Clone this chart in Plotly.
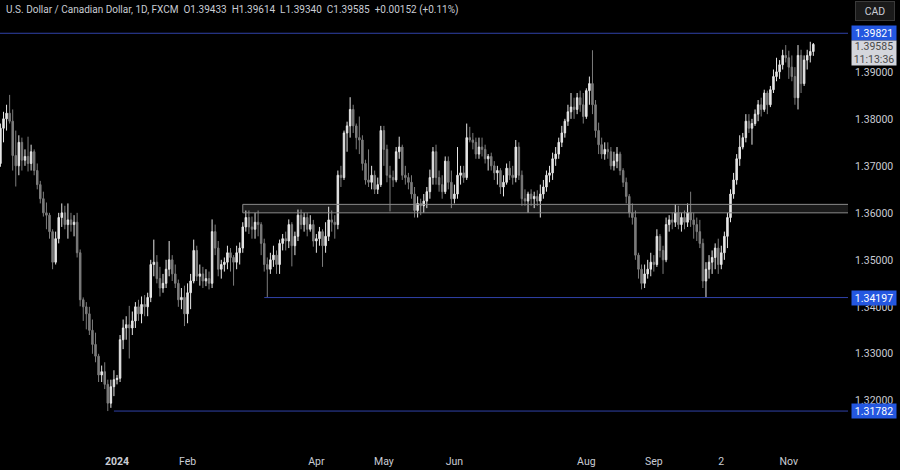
import plotly.graph_objects as go
import pandas as pd

# ---------------- data (USD/CAD daily, FXCM) ----------------
dates = [d.strftime("%Y-%m-%d") for d in pd.bdate_range("2023-11-08", "2024-11-13")]

opens = [
    # Nov 2023
    1.3705, 1.3780, 1.3800, 1.3812, 1.3795, 1.3722, 1.3700, 1.3750, 1.3712, 1.3720, 1.3705, 1.3730, 1.3690, 1.3660, 1.3630, 1.3600, 1.3595,
    # Dec 2023
    1.3560, 1.3495, 1.3545, 1.3590, 1.3600, 1.3575, 1.3585, 1.3575, 1.3580, 1.3515, 1.3415, 1.3400, 1.3385, 1.3350, 1.3320, 1.3295, 1.3255, 1.3262, 1.3235, 1.3195, 1.3230,
    # Jan 2024
    1.3245, 1.3248, 1.3330, 1.3355, 1.3362, 1.3355, 1.3370, 1.3400, 1.3385, 1.3405, 1.3400, 1.3420, 1.3490, 1.3495, 1.3460, 1.3440, 1.3450, 1.3480, 1.3500, 1.3470, 1.3450, 1.3415, 1.3420,
    # Feb
    1.3385, 1.3430, 1.3455, 1.3520, 1.3465, 1.3470, 1.3455, 1.3460, 1.3450, 1.3560, 1.3525, 1.3480, 1.3490, 1.3495, 1.3515, 1.3505, 1.3495, 1.3515, 1.3525, 1.3570, 1.3590,
    # Mar
    1.3570, 1.3565, 1.3580, 1.3575, 1.3535, 1.3490, 1.3480, 1.3500, 1.3510, 1.3490, 1.3535, 1.3545, 1.3540, 1.3575, 1.3530, 1.3550, 1.3595, 1.3575, 1.3590, 1.3565, 1.3575,
    # Apr
    1.3540, 1.3545, 1.3560, 1.3530, 1.3550, 1.3585, 1.3580, 1.3575, 1.3680, 1.3675, 1.3770, 1.3785, 1.3820, 1.3785, 1.3760, 1.3755, 1.3705, 1.3670, 1.3665, 1.3680, 1.3650, 1.3660,
    # May
    1.3775, 1.3735, 1.3680, 1.3675, 1.3670, 1.3730, 1.3740, 1.3680, 1.3675, 1.3665, 1.3640, 1.3605, 1.3620, 1.3615, 1.3625, 1.3645, 1.3675, 1.3730, 1.3675, 1.3660, 1.3645, 1.3710, 1.3665,
    # Jun
    1.3630, 1.3640, 1.3680, 1.3685, 1.3675, 1.3760, 1.3755, 1.3750, 1.3725, 1.3740, 1.3735, 1.3715, 1.3720, 1.3700, 1.3685, 1.3690, 1.3655, 1.3665, 1.3695, 1.3680,
    # Jul
    1.3675, 1.3740, 1.3680, 1.3630, 1.3625, 1.3640, 1.3630, 1.3635, 1.3625, 1.3640, 1.3655, 1.3680, 1.3685, 1.3715, 1.3725, 1.3750, 1.3770, 1.3795, 1.3815, 1.3825, 1.3820, 1.3845, 1.3830,
    # Aug
    1.3805, 1.3860, 1.3875, 1.3830, 1.3775, 1.3745, 1.3725, 1.3735, 1.3730, 1.3700, 1.3710, 1.3725, 1.3690, 1.3665, 1.3635, 1.3600, 1.3590, 1.3510, 1.3480, 1.3450, 1.3470, 1.3480,
    # Sep
    1.3495, 1.3490, 1.3550, 1.3520, 1.3500, 1.3575, 1.3585, 1.3580, 1.3600, 1.3575, 1.3590, 1.3580, 1.3600, 1.3585, 1.3575, 1.3560, 1.3535, 1.3455, 1.3480, 1.3495, 1.3505,
    # Oct
    1.3525, 1.3490, 1.3515, 1.3550, 1.3590, 1.3640, 1.3670, 1.3715, 1.3740, 1.3760, 1.3795, 1.3780, 1.3790, 1.3810, 1.3830, 1.3820, 1.3855, 1.3830, 1.3862, 1.3890, 1.3900, 1.3915, 1.3935,
    # Nov 2024
    1.3930, 1.3910, 1.3890, 1.3845, 1.3935, 1.3875, 1.3925, 1.3935, 1.39433,
]

highs = [
    1.3790, 1.3815, 1.3830, 1.3851, 1.3820, 1.3775, 1.3765, 1.3760, 1.3735, 1.3762, 1.3745, 1.3735, 1.3705, 1.3668, 1.3645, 1.3622, 1.3600,
    1.3565, 1.3560, 1.3600, 1.3620, 1.3615, 1.3620, 1.3600, 1.3595, 1.3600, 1.3522, 1.3420, 1.3410, 1.3400, 1.3373, 1.3345, 1.3300, 1.3275, 1.3282, 1.3245, 1.3245, 1.3265,
    1.3255, 1.3340, 1.3373, 1.3380, 1.3402, 1.3390, 1.3410, 1.3415, 1.3422, 1.3425, 1.3430, 1.3500, 1.3543, 1.3510, 1.3485, 1.3470, 1.3500, 1.3540, 1.3510, 1.3490, 1.3458, 1.3440, 1.3445,
    1.3450, 1.3470, 1.3543, 1.3530, 1.3490, 1.3485, 1.3480, 1.3475, 1.3586, 1.3575, 1.3540, 1.3500, 1.3505, 1.3530, 1.3525, 1.3510, 1.3530, 1.3537, 1.3580, 1.3605, 1.3605,
    1.3592, 1.3600, 1.3605, 1.3580, 1.3545, 1.3505, 1.3515, 1.3530, 1.3520, 1.3543, 1.3555, 1.3560, 1.3586, 1.3580, 1.3560, 1.3607, 1.3607, 1.3600, 1.3600, 1.3595, 1.3585,
    1.3555, 1.3570, 1.3565, 1.3580, 1.3613, 1.3605, 1.3595, 1.3690, 1.3700, 1.3775, 1.3794, 1.3846, 1.3830, 1.3790, 1.3805, 1.3765, 1.3713, 1.3735, 1.3700, 1.3690, 1.3675, 1.3785,
    1.3785, 1.3745, 1.3700, 1.3690, 1.3740, 1.3762, 1.3745, 1.3700, 1.3685, 1.3680, 1.3655, 1.3635, 1.3630, 1.3640, 1.3655, 1.3692, 1.3740, 1.3745, 1.3690, 1.3680, 1.3720, 1.3720, 1.3690,
    1.3660, 1.3740, 1.3700, 1.3700, 1.3790, 1.3783, 1.3770, 1.3760, 1.3760, 1.3760, 1.3745, 1.3725, 1.3728, 1.3710, 1.3700, 1.3695, 1.3680, 1.3705, 1.3710, 1.3700,
    1.3755, 1.3750, 1.3690, 1.3650, 1.3645, 1.3650, 1.3645, 1.3648, 1.3660, 1.3670, 1.3690, 1.3700, 1.3728, 1.3740, 1.3760, 1.3785, 1.3800, 1.3830, 1.3855, 1.3845, 1.3855, 1.3860, 1.3855,
    1.3865, 1.3890, 1.3946, 1.3840, 1.3792, 1.3760, 1.3750, 1.3750, 1.3740, 1.3730, 1.3740, 1.3730, 1.3695, 1.3675, 1.3640, 1.3620, 1.3605, 1.3515, 1.3490, 1.3490, 1.3500, 1.3515,
    1.3510, 1.3565, 1.3555, 1.3530, 1.3590, 1.3595, 1.3600, 1.3618, 1.3615, 1.3600, 1.3605, 1.3620, 1.3645, 1.3600, 1.3590, 1.3585, 1.3545, 1.3495, 1.3510, 1.3520, 1.3535,
    1.3545, 1.3530, 1.3560, 1.3600, 1.3650, 1.3685, 1.3725, 1.3765, 1.3770, 1.3810, 1.3810, 1.3800, 1.3820, 1.3840, 1.3845, 1.3862, 1.3860, 1.3870, 1.3905, 1.3930, 1.3925, 1.3947, 1.3957,
    1.3945, 1.3935, 1.3910, 1.3957, 1.3947, 1.3935, 1.3947, 1.3964, 1.39614,
]

lows = [
    1.3698, 1.3750, 1.3775, 1.3790, 1.3690, 1.3656, 1.3680, 1.3690, 1.3700, 1.3688, 1.3690, 1.3680, 1.3650, 1.3620, 1.3592, 1.3565, 1.3545,
    1.3480, 1.3490, 1.3535, 1.3570, 1.3565, 1.3545, 1.3560, 1.3550, 1.3505, 1.3401, 1.3370, 1.3352, 1.3340, 1.3300, 1.3282, 1.3240, 1.3240, 1.3225, 1.31782, 1.3185, 1.3210,
    1.3235, 1.3240, 1.3310, 1.3330, 1.3290, 1.3340, 1.3355, 1.3370, 1.3365, 1.3380, 1.3380, 1.3410, 1.3465, 1.3450, 1.3422, 1.3430, 1.3440, 1.3465, 1.3455, 1.3440, 1.3400, 1.3395, 1.3359,
    1.3365, 1.3395, 1.3450, 1.3455, 1.3445, 1.3440, 1.3444, 1.3437, 1.3440, 1.3510, 1.3465, 1.3460, 1.3475, 1.3480, 1.3475, 1.3445, 1.3480, 1.3490, 1.3515, 1.3560, 1.3555,
    1.3545, 1.3545, 1.3550, 1.3510, 1.3475, 1.34197, 1.3470, 1.3485, 1.3470, 1.3470, 1.3520, 1.3520, 1.3525, 1.3486, 1.3510, 1.3540, 1.3565, 1.3560, 1.3550, 1.3560, 1.3528,
    1.3515, 1.3530, 1.3485, 1.3515, 1.3540, 1.3560, 1.3545, 1.3565, 1.3655, 1.3670, 1.3730, 1.3760, 1.3770, 1.3735, 1.3725, 1.3690, 1.3660, 1.3655, 1.3650, 1.3640, 1.3640, 1.3655,
    1.3700, 1.3665, 1.3603, 1.3655, 1.3665, 1.3715, 1.3670, 1.3660, 1.3650, 1.3630, 1.3590, 1.3590, 1.3595, 1.3600, 1.3610, 1.3630, 1.3660, 1.3660, 1.3645, 1.3630, 1.3640, 1.3650, 1.3610,
    1.3620, 1.3630, 1.3660, 1.3664, 1.3670, 1.3750, 1.3735, 1.3715, 1.3715, 1.3720, 1.3705, 1.3690, 1.3690, 1.3670, 1.3660, 1.3640, 1.3635, 1.3660, 1.3670, 1.3660,
    1.3665, 1.3670, 1.3615, 1.3615, 1.3600, 1.3615, 1.3610, 1.3615, 1.3590, 1.3630, 1.3645, 1.3665, 1.3670, 1.3700, 1.3715, 1.3740, 1.3760, 1.3785, 1.3800, 1.3800, 1.3810, 1.3815, 1.3790,
    1.3800, 1.3830, 1.3810, 1.3760, 1.3725, 1.3715, 1.3713, 1.3715, 1.3692, 1.3690, 1.3695, 1.3680, 1.3655, 1.3620, 1.3590, 1.3575, 1.3500, 1.3460, 1.3437, 1.3440, 1.3460, 1.3465,
    1.3475, 1.3485, 1.3505, 1.3470, 1.3495, 1.3560, 1.3565, 1.3570, 1.3565, 1.3560, 1.3565, 1.3570, 1.3570, 1.3545, 1.3540, 1.3525, 1.3440, 1.34197, 1.3460, 1.3470, 1.3480,
    1.3470, 1.3480, 1.3500, 1.3525, 1.3580, 1.3630, 1.3660, 1.3700, 1.3735, 1.3750, 1.3770, 1.3745, 1.3785, 1.3795, 1.3805, 1.3815, 1.3810, 1.3825, 1.3855, 1.3880, 1.3885, 1.3905, 1.3920,
    1.3885, 1.3880, 1.3830, 1.3820, 1.3855, 1.3870, 1.3905, 1.3920, 1.39340,
]

closes = [
    1.3780, 1.3800, 1.3812, 1.3795, 1.3722, 1.3700, 1.3750, 1.3712, 1.3720, 1.3705, 1.3730, 1.3690, 1.3660, 1.3630, 1.3600, 1.3595, 1.3560,
    1.3495, 1.3545, 1.3590, 1.3600, 1.3575, 1.3585, 1.3575, 1.3580, 1.3515, 1.3415, 1.3400, 1.3385, 1.3350, 1.3320, 1.3295, 1.3255, 1.3262, 1.3235, 1.3195, 1.3230, 1.3245,
    1.3248, 1.3330, 1.3355, 1.3362, 1.3355, 1.3370, 1.3400, 1.3385, 1.3405, 1.3400, 1.3420, 1.3490, 1.3495, 1.3460, 1.3440, 1.3450, 1.3480, 1.3500, 1.3470, 1.3450, 1.3415, 1.3420, 1.3385,
    1.3430, 1.3455, 1.3520, 1.3465, 1.3470, 1.3455, 1.3460, 1.3450, 1.3560, 1.3525, 1.3480, 1.3490, 1.3495, 1.3515, 1.3505, 1.3495, 1.3515, 1.3525, 1.3570, 1.3590, 1.3570,
    1.3565, 1.3580, 1.3575, 1.3535, 1.3490, 1.3480, 1.3500, 1.3510, 1.3490, 1.3535, 1.3545, 1.3540, 1.3575, 1.3530, 1.3550, 1.3595, 1.3575, 1.3590, 1.3565, 1.3575, 1.3540,
    1.3545, 1.3560, 1.3530, 1.3550, 1.3585, 1.3580, 1.3575, 1.3680, 1.3675, 1.3770, 1.3785, 1.3820, 1.3785, 1.3760, 1.3755, 1.3705, 1.3670, 1.3665, 1.3680, 1.3650, 1.3660, 1.3775,
    1.3735, 1.3680, 1.3675, 1.3670, 1.3730, 1.3740, 1.3680, 1.3675, 1.3665, 1.3640, 1.3605, 1.3620, 1.3615, 1.3625, 1.3645, 1.3675, 1.3730, 1.3675, 1.3660, 1.3645, 1.3710, 1.3665, 1.3630,
    1.3640, 1.3680, 1.3685, 1.3675, 1.3760, 1.3755, 1.3750, 1.3725, 1.3740, 1.3735, 1.3715, 1.3720, 1.3700, 1.3685, 1.3690, 1.3655, 1.3665, 1.3695, 1.3680, 1.3675,
    1.3740, 1.3680, 1.3630, 1.3625, 1.3640, 1.3630, 1.3635, 1.3625, 1.3640, 1.3655, 1.3680, 1.3685, 1.3715, 1.3725, 1.3750, 1.3770, 1.3795, 1.3815, 1.3825, 1.3820, 1.3845, 1.3830, 1.3805,
    1.3860, 1.3875, 1.3830, 1.3775, 1.3745, 1.3725, 1.3735, 1.3730, 1.3700, 1.3710, 1.3725, 1.3690, 1.3665, 1.3635, 1.3600, 1.3590, 1.3510, 1.3480, 1.3450, 1.3470, 1.3480, 1.3495,
    1.3490, 1.3550, 1.3520, 1.3500, 1.3575, 1.3585, 1.3580, 1.3600, 1.3575, 1.3590, 1.3580, 1.3600, 1.3585, 1.3575, 1.3560, 1.3535, 1.3455, 1.3480, 1.3495, 1.3505, 1.3525,
    1.3490, 1.3515, 1.3550, 1.3590, 1.3640, 1.3670, 1.3715, 1.3740, 1.3760, 1.3795, 1.3780, 1.3790, 1.3810, 1.3830, 1.3820, 1.3855, 1.3830, 1.3862, 1.3890, 1.3900, 1.3915, 1.3935, 1.3930,
    1.3910, 1.3890, 1.3845, 1.3935, 1.3875, 1.3925, 1.3935, 1.39433, 1.39585,
]

assert len(dates) == len(opens) == len(highs) == len(lows) == len(closes), (
    len(dates), len(opens), len(highs), len(lows), len(closes))

tick_dates = ["2024-01-01", "2024-02-01", "2024-04-01", "2024-05-01", "2024-06-03",
              "2024-08-01", "2024-09-02", "2024-10-02", "2024-11-01"]
tick_text = ["<b>2024</b>", "Feb", "Apr", "May", "Jun", "Aug", "Sep", "2", "Nov"]

price_ticks = [1.32, 1.33, 1.34, 1.35, 1.36, 1.37, 1.38, 1.39]

resistance_level = 1.39821
support_level = 1.34197
support_start = "2024-03-07"
low_level = 1.31782
low_start = "2023-12-29"
zone_low, zone_high = 1.3600, 1.3618
zone_start = "2024-02-27"
countdown = "11:13:36"

# ---------------- styling ----------------
BG = "#000000"
TXT = "#c9ccd4"
BLUE_LINE = "#3042a8"
BLUE_LBL = "#2457e0"
FONT = "Roboto, Liberation Sans, sans-serif"

fig = go.Figure(go.Candlestick(
    x=dates, open=opens, high=highs, low=lows, close=closes,
    increasing=dict(line=dict(color="#e6e6e6", width=1), fillcolor="#e6e6e6"),
    decreasing=dict(line=dict(color="#7c7c7c", width=1), fillcolor="#7c7c7c"),
    whiskerwidth=0, showlegend=False, hoverinfo="skip",
))

n = len(dates)
x_end = n + 15

shapes = [
    dict(type="rect", xref="x", yref="y", x0=dates.index(zone_start), x1=x_end,
         y0=zone_low, y1=zone_high, fillcolor="rgba(255,255,255,0.10)",
         line=dict(color="#8a8a8a", width=1), layer="above"),
    dict(type="line", xref="paper", yref="y", x0=0, x1=1, y0=resistance_level, y1=resistance_level,
         line=dict(color=BLUE_LINE, width=1)),
    dict(type="line", xref="x", yref="y", x0=dates.index(support_start), x1=x_end,
         y0=support_level, y1=support_level, line=dict(color=BLUE_LINE, width=1)),
    dict(type="line", xref="x", yref="y", x0=dates.index(low_start), x1=x_end,
         y0=low_level, y1=low_level, line=dict(color=BLUE_LINE, width=1)),
]

annotations = []
for lvl in (resistance_level, support_level, low_level):
    annotations.append(dict(
        xref="paper", x=1, xanchor="left", xshift=3, yref="y", y=lvl, yanchor="middle",
        text=f"{lvl:.5f}", showarrow=False, bgcolor=BLUE_LBL, width=44, height=14,
        borderpad=0, font=dict(family=FONT, size=10.5, color="#ffffff")))

last_close = closes[-1]
annotations.append(dict(
    xref="paper", x=1, xanchor="left", xshift=3, yref="y", y=last_close, yanchor="top",
    yshift=4, text=f"{last_close:.5f}<br>{countdown}", showarrow=False, bgcolor="#d4d6dc",
    width=44, height=24, borderpad=0, font=dict(family=FONT, size=10.5, color="#4a4a4a")))

chg = closes[-1] - closes[-2]
pct = chg / closes[-2] * 100
title_txt = (f"U.S. Dollar / Canadian Dollar, 1D, FXCM&nbsp;&nbsp;O{opens[-1]:.5f}&nbsp;&nbsp;"
             f"H{highs[-1]:.5f}&nbsp;&nbsp;L{lows[-1]:.5f}&nbsp;&nbsp;C{closes[-1]:.5f}&nbsp;&nbsp;"
             f"{chg:+.5f} ({pct:+.2f}%)")
annotations.append(dict(
    xref="paper", x=0, xanchor="left", xshift=4, yref="paper", y=1, yanchor="top", yshift=-2,
    text=title_txt, showarrow=False, font=dict(family=FONT, size=10, color=TXT)))

annotations.append(dict(
    xref="paper", x=1, xanchor="left", xshift=7, yref="paper", y=1, yanchor="top", yshift=-1,
    text="CAD", showarrow=False, bgcolor="#1a1a1a", bordercolor="#3a3a3a", borderwidth=1,
    width=36, height=16, font=dict(family=FONT, size=10.5, color=TXT)))

fig.update_layout(
    width=900, height=470,
    margin=dict(l=0, r=52, t=0, b=23, autoexpand=False),
    paper_bgcolor=BG, plot_bgcolor=BG,
    shapes=shapes, annotations=annotations,
    showlegend=False,
    xaxis=dict(
        type="category", range=[-0.14, 276.3], rangeslider=dict(visible=False),
        tickmode="array", tickvals=tick_dates, ticktext=tick_text,
        showgrid=False, zeroline=False, showline=False, automargin=False,
        ticks="outside", ticklen=4, tickcolor=BG,
        tickfont=dict(family=FONT, size=10.5, color=TXT),
    ),
    yaxis=dict(
        side="right", range=[1.31017, 1.40529],
        tickmode="array", tickvals=price_ticks, tickformat=".5f",
        showgrid=False, zeroline=False, showline=False, automargin=False,
        ticks="outside", ticklen=4, tickcolor=BG,
        tickfont=dict(family=FONT, size=10.5, color=TXT),
    ),
)

fig.write_html(
    "out.html",
    config=dict(displayModeBar=False),
    post_script="document.body.style.margin='0';document.body.style.background='#000';",
)
